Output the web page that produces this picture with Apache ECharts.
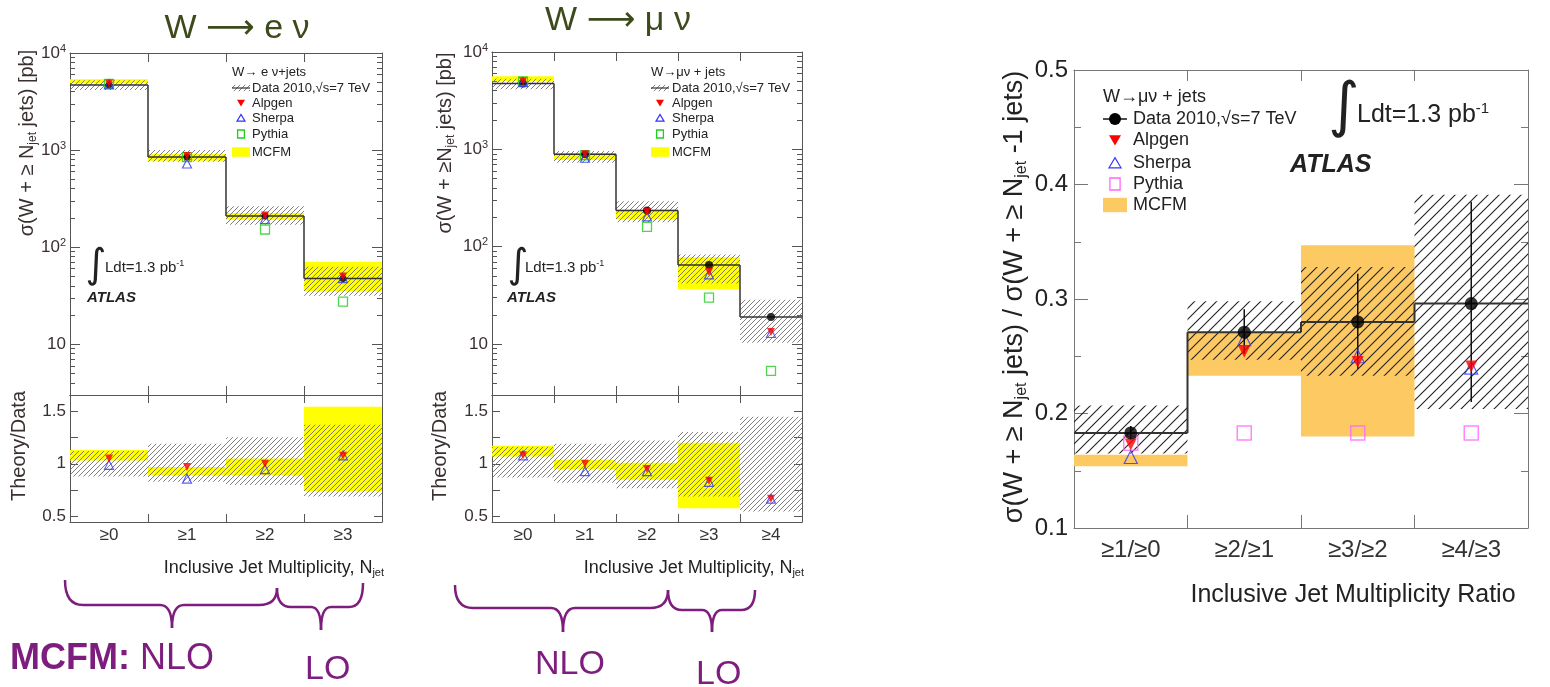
<!DOCTYPE html>
<html><head><meta charset="utf-8">
<script src="https://cdn.jsdelivr.net/npm/echarts@6/dist/echarts.min.js"></script>
<style>html,body{margin:0;padding:0;background:#fff}#c{width:1550px;height:687px}</style>
</head><body><div id="c"></div>
<script>
// ---------------- DATA ----------------
const eCats = ['≥0','≥1','≥2','≥3'];
const muCats = ['≥0','≥1','≥2','≥3','≥4'];
const ratioCats = ['≥1/≥0','≥2/≥1','≥3/≥2','≥4/≥3'];

// W -> e nu : sigma(W + >= N jets) [pb]
const eData    = [4690, 850, 210, 47.5];
const eDataLo  = [4160, 760, 170, 31.5];
const eDataHi  = [5250, 1000, 264, 63];
const eMcfmLo  = [4870, 775, 192, 35];
const eMcfmHi  = [5360, 910, 225, 70.7];
const eAlpgen  = [4850, 870, 212, 50];
const eSherpa  = [4750, 727, 195, 48];
const ePythia  = [4800, 845, 152, 27.5];
// W -> e nu : Theory/Data
const eRDataLo = [0.88, 0.83, 0.80, 0.69];
const eRDataHi = [1.12, 1.19, 1.25, 1.37];
const eRMcfmLo = [1.03, 0.89, 0.89, 0.74];
const eRMcfmHi = [1.13, 0.97, 1.05, 1.54];
const eRAlpgen = [1.05, 0.97, 1.00, 1.075];
const eRSherpa = [0.99, 0.86, 0.95, 1.08];

// W -> mu nu : sigma(W + >= N jets) [pb]
const muData   = [4760, 890, 235, 65, 19];
const muDataLo = [4150, 727, 178, 42, 10.3];
const muDataHi = [5300, 963, 294, 83, 28.6];
const muMcfmLo = [5020, 776, 190, 36.5, null];
const muMcfmHi = [5650, 910, 241, 78, null];
const muAlpgen = [5000, 890, 228, 55, 13.3];
const muSherpa = [4900, 820, 205, 52, 13];
const muPythia = [5000, 870, 160, 30, 5.3];
// W -> mu nu : Theory/Data
const muRDataLo = [0.87, 0.82, 0.77, 0.69, 0.55];
const muRDataHi = [1.16, 1.19, 1.22, 1.30, 1.445];
const muRMcfmLo = [1.07, 0.95, 0.85, 0.58, null];
const muRMcfmHi = [1.17, 1.035, 1.01, 1.20, null];
const muRAlpgen = [1.08, 1.00, 0.95, 0.84, 0.67];
const muRSherpa = [1.08, 0.93, 0.93, 0.83, 0.67];

// Ratio sigma(>=N)/sigma(>=N-1), W -> mu nu
const rData   = [0.183, 0.271, 0.280, 0.296];
const rErrLo  = [0.178, 0.252, 0.239, 0.210];
const rErrHi  = [0.189, 0.291, 0.322, 0.385];
const rSystLo = [0.165, 0.247, 0.233, 0.204];
const rSystHi = [0.207, 0.298, 0.328, 0.391];
const rMcfmLo = [0.154, 0.233, 0.180, null];
const rMcfmHi = [0.164, 0.271, 0.347, null];
const rAlpgen = [0.173, 0.254, 0.245, 0.241];
const rSherpa = [0.162, 0.265, 0.250, 0.240];
const rPythia = [0.174, 0.183, 0.183, 0.183];

// tick values
const logMinorTicks = [4,5,6,7,8,9,20,30,40,50,60,70,80,90,200,300,400,500,600,700,800,900,2000,3000,4000,5000,6000,7000,8000,9000];
const ratioTicks = [0.5, 0.75, 1, 1.25, 1.5];
const ratioLabels = [0.5, 1, 1.5];

// ---------------- STYLE HELPERS ----------------
const FONT = '"Liberation Sans", Arial, Helvetica, "DejaVu Sans", sans-serif';
const FR = '#555';
const YELLOW = '#ffff00';
const ORANGE = '#fdc962';
const PURPLE = '#7d1d7d';
const TITLEC = '#3c4a1c';

function hatchCanvas(size, color, lw) {
  const c = document.createElement('canvas');
  c.width = size; c.height = size;
  const g = c.getContext('2d');
  g.strokeStyle = color; g.lineWidth = lw;
  g.beginPath();
  g.moveTo(-2, size + 2); g.lineTo(size + 2, -2);
  g.moveTo(-2, 2); g.lineTo(2, -2);
  g.moveTo(size - 2, size + 2); g.lineTo(size + 2, size - 2);
  g.stroke();
  return c;
}
const greyHatch = {image: hatchCanvas(5, '#707070', 0.9), repeat: 'repeat'};
const blackHatch = {image: hatchCanvas(11, '#222', 1.1), repeat: 'repeat'};

function xCat(grid, cats, pos, showLabels, fs, tickLen, margin, color) {
  return {type: 'category', gridIndex: grid, data: cats, position: pos, boundaryGap: true,
    axisLine: {show: true, lineStyle: {color: color || FR, width: 1}},
    axisTick: {show: true, inside: true, length: tickLen, interval: 0, lineStyle: {color: color || FR}},
    axisLabel: {show: showLabels, interval: 0, fontSize: fs, fontFamily: FONT, color: '#333', margin: margin},
    splitLine: {show: false}};
}
function logFmt(v) {
  const k = Math.round(Math.log10(v));
  return k === 1 ? '{b|10}' : '{b|10}{s|' + k + '}';
}
function yLog(grid, pos, showLabels) {
  return {type: 'log', logBase: 10, gridIndex: grid, position: pos, min: 3, max: 10000, splitNumber: 4,
    axisLine: {show: true, lineStyle: {color: FR}},
    axisTick: {show: true, inside: true, length: 10, lineStyle: {color: FR}},
    axisLabel: {show: showLabels, showMinLabel: false, margin: 4, color: '#3a3030', formatter: logFmt,
      rich: {b: {fontSize: 17, fontFamily: FONT, color: '#3a3030', lineHeight: 20},
             s: {fontSize: 11, fontFamily: FONT, color: '#3a3030', lineHeight: 11, verticalAlign: 'top'}}},
    splitLine: {show: false}};
}
function yMinor(grid, pos, vals, min, max, len) {
  return {type: 'value', gridIndex: grid, position: pos, min: min, max: max,
    axisLine: {show: false}, axisLabel: {show: false}, splitLine: {show: false},
    axisTick: {show: true, inside: true, length: len, customValues: vals, lineStyle: {color: FR}}};
}
function yRatio(grid, pos, showLabels) {
  return {type: 'value', gridIndex: grid, position: pos, min: 0.45, max: 1.65,
    axisLine: {show: true, lineStyle: {color: FR}},
    axisTick: {show: true, inside: true, length: 8, customValues: ratioTicks, lineStyle: {color: FR}},
    axisLabel: {show: showLabels, customValues: ratioLabels, formatter: v => String(v),
      fontSize: 17, fontFamily: FONT, color: '#3a3030', margin: 4},
    splitLine: {show: false}};
}
function yRight(pos, showLabels) {
  return {type: 'value', gridIndex: 4, position: pos, min: 0.1, max: 0.5, interval: 0.1,
    axisLine: {show: true, lineStyle: {color: '#777'}},
    axisTick: {show: true, inside: true, length: 14, lineStyle: {color: '#777'}},
    minorTick: {show: true, splitNumber: 2, length: 7, lineStyle: {color: '#777'}},
    axisLabel: {show: showLabels, formatter: v => v.toFixed(1), fontSize: 24, fontFamily: FONT, color: '#222', margin: 6},
    splitLine: {show: false}};
}

function band(xi, yi, lo, hi, fill, z) {
  return {type: 'custom', xAxisIndex: xi, yAxisIndex: yi, z: z, silent: true, clip: true,
    data: lo.map((l, i) => [i, l, hi[i]]).filter(d => d[1] != null),
    encode: {x: 0, y: [1, 2]},
    renderItem: function (params, api) {
      const i = api.value(0);
      const p1 = api.coord([i, api.value(1)]);
      const p2 = api.coord([i, api.value(2)]);
      const w = api.size([1, 0])[0];
      return {type: 'rect', shape: {x: p1[0] - w / 2, y: p2[1], width: w, height: p1[1] - p2[1]},
        style: {fill: fill}};
    }};
}
function step(xi, yi, vals, color, lw, z) {
  return {type: 'custom', xAxisIndex: xi, yAxisIndex: yi, z: z, silent: true, clip: true,
    data: vals.map((v, i) => [i, v, i > 0 ? vals[i - 1] : v]),
    encode: {x: 0, y: 1},
    renderItem: function (params, api) {
      const i = api.value(0);
      const p = api.coord([i, api.value(1)]);
      const q = api.coord([i, api.value(2)]);
      const w = api.size([1, 0])[0];
      const ch = [{type: 'line', shape: {x1: p[0] - w / 2, y1: p[1], x2: p[0] + w / 2, y2: p[1]},
        style: {stroke: color, lineWidth: lw}}];
      if (i > 0) ch.push({type: 'line', shape: {x1: p[0] - w / 2, y1: q[1], x2: p[0] - w / 2, y2: p[1]},
        style: {stroke: color, lineWidth: lw}});
      return {type: 'group', children: ch};
    }};
}
function errBars(xi, yi, lo, hi, color, lw, z) {
  return {type: 'custom', xAxisIndex: xi, yAxisIndex: yi, z: z, silent: true, clip: true,
    data: lo.map((l, i) => [i, l, hi[i]]),
    encode: {x: 0, y: [1, 2]},
    renderItem: function (params, api) {
      const i = api.value(0);
      const a = api.coord([i, api.value(1)]);
      const b = api.coord([i, api.value(2)]);
      return {type: 'line', shape: {x1: a[0], y1: a[1], x2: b[0], y2: b[1]}, style: {stroke: color, lineWidth: lw}};
    }};
}
const markStyles = {
  data:   {symbol: 'circle', itemStyle: {color: '#000'}},
  alpgen: {symbol: 'triangle', symbolRotate: 180, itemStyle: {color: '#ff0000'}},
  sherpa: {symbol: 'triangle', itemStyle: {color: 'rgba(0,0,0,0)', borderColor: '#3333ff', borderWidth: 1.2}},
  pythiaG:{symbol: 'rect', itemStyle: {color: 'rgba(0,0,0,0)', borderColor: '#22cc22', borderWidth: 1.3}},
  pythiaM:{symbol: 'rect', itemStyle: {color: 'rgba(0,0,0,0)', borderColor: '#ff66ff', borderWidth: 1.5}}
};
function marks(xi, yi, vals, kind, size, z) {
  const s = markStyles[kind];
  return Object.assign({type: 'scatter', xAxisIndex: xi, yAxisIndex: yi, z: z, silent: true,
    symbolSize: size, data: vals.map((v, i) => [i, v]).filter(d => d[1] != null)}, s);
}

// ---------------- AXES ----------------
const logMinorLog = logMinorTicks.map(v => Math.log10(v));
const LMIN = Math.log10(3), LMAX = 4;

const xAxis = [
  xCat(0, eCats, 'bottom', false, 17, 9, 4),
  xCat(0, eCats, 'top', false, 17, 9, 4),
  xCat(1, eCats, 'bottom', true, 17, 8, 5),
  xCat(1, eCats, 'top', false, 17, 8, 4),
  xCat(2, muCats, 'bottom', false, 17, 9, 4),
  xCat(2, muCats, 'top', false, 17, 9, 4),
  xCat(3, muCats, 'bottom', true, 17, 8, 5),
  xCat(3, muCats, 'top', false, 17, 8, 4),
  xCat(4, ratioCats, 'bottom', true, 24, 13, 10, '#777'),
  xCat(4, ratioCats, 'top', false, 24, 11, 4, '#777')
];
const yAxis = [
  yLog(0, 'left', true),
  yMinor(0, 'left', logMinorLog, LMIN, LMAX, 5),
  yLog(0, 'right', false),
  yMinor(0, 'right', logMinorLog, LMIN, LMAX, 5),
  yRatio(1, 'left', true),
  yRatio(1, 'right', false),
  yLog(2, 'left', true),
  yMinor(2, 'left', logMinorLog, LMIN, LMAX, 5),
  yLog(2, 'right', false),
  yMinor(2, 'right', logMinorLog, LMIN, LMAX, 5),
  yRatio(3, 'left', true),
  yRatio(3, 'right', false),
  yRight('left', true),
  yRight('right', false)
];

// ---------------- SERIES ----------------
const series = [
  band(0, 0, eMcfmLo, eMcfmHi, YELLOW, 2),
  band(0, 0, eDataLo, eDataHi, greyHatch, 3),
  step(0, 0, eData, '#333', 1.5, 4),
  marks(0, 0, eData, 'data', 7, 6),
  marks(0, 0, ePythia, 'pythiaG', 9, 7),
  marks(0, 0, eSherpa, 'sherpa', 9, 8),
  marks(0, 0, eAlpgen, 'alpgen', 8, 9),
  band(2, 4, eRMcfmLo, eRMcfmHi, YELLOW, 2),
  band(2, 4, eRDataLo, eRDataHi, greyHatch, 3),
  marks(2, 4, eRSherpa, 'sherpa', 9, 8),
  marks(2, 4, eRAlpgen, 'alpgen', 8, 9),
  band(4, 6, muMcfmLo, muMcfmHi, YELLOW, 2),
  band(4, 6, muDataLo, muDataHi, greyHatch, 3),
  step(4, 6, muData, '#333', 1.5, 4),
  marks(4, 6, muData, 'data', 8, 6),
  marks(4, 6, muPythia, 'pythiaG', 9, 7),
  marks(4, 6, muSherpa, 'sherpa', 9, 8),
  marks(4, 6, muAlpgen, 'alpgen', 8, 9),
  band(6, 10, muRMcfmLo, muRMcfmHi, YELLOW, 2),
  band(6, 10, muRDataLo, muRDataHi, greyHatch, 3),
  marks(6, 10, muRSherpa, 'sherpa', 9, 8),
  marks(6, 10, muRAlpgen, 'alpgen', 8, 9),
  band(8, 12, rMcfmLo, rMcfmHi, ORANGE, 2),
  band(8, 12, rSystLo, rSystHi, blackHatch, 3),
  step(8, 12, rData, '#333', 2, 4),
  errBars(8, 12, rErrLo, rErrHi, '#111', 1.5, 5),
  marks(8, 12, rPythia, 'pythiaM', 14, 7),
  marks(8, 12, rSherpa, 'sherpa', 13, 8),
  marks(8, 12, rAlpgen, 'alpgen', 12, 9),
  marks(8, 12, rData, 'data', 13, 10)
];

// ---------------- GRAPHIC (titles, legends, annotations) ----------------
function txt(x, y, text, fs, opts) {
  return {type: 'text', x: x, y: y, z: 50, silent: true, rotation: (opts && opts.rotation) || 0,
    style: Object.assign({text: text, fontSize: fs, fontFamily: FONT, fill: '#222', align: 'left', verticalAlign: 'middle'}, opts && opts.style)};
}
function subRich(fs, color) {
  return {n: {fontSize: fs, fontFamily: FONT, fill: color, lineHeight: fs + 3},
    sub: {fontSize: Math.round(fs * 0.6), fontFamily: FONT, fill: color, lineHeight: Math.round(fs * 0.6), verticalAlign: 'bottom'}};
}
function legend(x0, iconX, textX, yHead, ys, fs, iconSize, hatch, bandColor, pythiaColor, headText, dataIcon) {
  const h = iconSize / 2;
  const els = [txt(x0, yHead, headText, fs)];
  const labels = ['Data 2010,√s=7 TeV', 'Alpgen', 'Sherpa', 'Pythia', 'MCFM'];
  labels.forEach((l, i) => els.push(txt(textX, ys[i], l, fs)));
  const w = (iconX - x0) * 2;
  if (dataIcon === 'hatch') {
    els.push({type: 'rect', z: 50, silent: true, shape: {x: x0, y: ys[0] - h * 0.8, width: w, height: h * 1.6}, style: {fill: hatch}});
    els.push({type: 'line', z: 51, silent: true, shape: {x1: x0, y1: ys[0], x2: x0 + w, y2: ys[0]}, style: {stroke: '#333', lineWidth: 1.2}});
  } else {
    els.push({type: 'line', z: 51, silent: true, shape: {x1: x0, y1: ys[0], x2: x0 + w, y2: ys[0]}, style: {stroke: '#111', lineWidth: 1.5}});
    els.push({type: 'circle', z: 52, silent: true, shape: {cx: iconX, cy: ys[0], r: h}, style: {fill: '#000'}});
  }
  els.push({type: 'polygon', z: 50, silent: true, shape: {points: [[iconX - h, ys[1] - h * 0.8], [iconX + h, ys[1] - h * 0.8], [iconX, ys[1] + h * 0.9]]}, style: {fill: '#ff0000'}});
  els.push({type: 'polygon', z: 50, silent: true, shape: {points: [[iconX - h, ys[2] + h * 0.8], [iconX + h, ys[2] + h * 0.8], [iconX, ys[2] - h * 0.9]]}, style: {fill: 'none', stroke: '#3333ff', lineWidth: 1.2}});
  els.push({type: 'rect', z: 50, silent: true, shape: {x: iconX - h * 0.85, y: ys[3] - h, width: h * 1.7, height: h * 2}, style: {fill: 'none', stroke: pythiaColor, lineWidth: 1.3}});
  els.push({type: 'rect', z: 50, silent: true, shape: {x: x0, y: ys[4] - h * 1.2, width: w, height: h * 2.4}, style: {fill: bandColor}});
  return els;
}
function brace(x1, y1, x2, y2, xm, yMid, yTip, r, rt) {
  const st = {fill: 'none', stroke: PURPLE, lineWidth: 2.5};
  const q = (ax, ay, cx, cy, bx, by) => ({type: 'bezierCurve', silent: true,
    shape: {x1: ax, y1: ay, cpx1: cx, cpy1: cy, x2: bx, y2: by}, style: st});
  const l = (ax, ay, bx, by) => ({type: 'line', silent: true, shape: {x1: ax, y1: ay, x2: bx, y2: by}, style: st});
  return {type: 'group', z: 50, silent: true, children: [
    q(x1, y1, x1, yMid, x1 + r, yMid),
    l(x1 + r, yMid, xm - rt, yMid),
    q(xm - rt, yMid, xm, yMid, xm, yTip),
    q(xm, yTip, xm, yMid, xm + rt, yMid),
    l(xm + rt, yMid, x2 - r, yMid),
    q(x2 - r, yMid, x2, yMid, x2, y2)
  ]};
}
const R20 = subRich(20, '#3a3030');
const R18 = subRich(18, '#222');
const R27 = subRich(27, '#222');
const ldtRich = (fs) => ({a: {fontSize: fs, fontFamily: FONT, fill: '#222', lineHeight: fs + 2},
  s: {fontSize: Math.round(fs * 0.6), fontFamily: FONT, fill: '#222', lineHeight: Math.round(fs * 0.6), verticalAlign: 'top'}});
const TITLEFONT = '"Liberation Sans", "DejaVu Sans", sans-serif';

const graphic = [
  txt(237, 29, 'W ⟶ e ν', 34, {style: {fill: TITLEC, align: 'center', fontFamily: TITLEFONT}}),
  txt(618, 21, 'W ⟶ μ ν', 34, {style: {fill: TITLEC, align: 'center', fontFamily: TITLEFONT}}),
  txt(27, 143, '{n|σ(W + ≥ N}{sub|jet}{n| jets) [pb]}', 20, {rotation: Math.PI / 2, style: {align: 'center', rich: R20}}),
  txt(19, 446, 'Theory/Data', 20, {rotation: Math.PI / 2, style: {align: 'center', fill: '#3a3030'}}),
  txt(445, 143, '{n|σ(W + ≥N}{sub|jet}{n| jets) [pb]}', 20, {rotation: Math.PI / 2, style: {align: 'center', rich: R20}}),
  txt(440, 446, 'Theory/Data', 20, {rotation: Math.PI / 2, style: {align: 'center', fill: '#3a3030'}}),
  txt(1015, 297, '{n|σ(W + ≥ N}{sub|jet}{n| jets) / σ(W + ≥ N}{sub|jet}{n| -1 jets)}', 27, {rotation: Math.PI / 2, style: {align: 'center', rich: R27}}),
  txt(384, 568, '{n|Inclusive Jet Multiplicity, N}{sub|jet}', 18, {style: {align: 'right', rich: R18}}),
  txt(804, 568, '{n|Inclusive Jet Multiplicity, N}{sub|jet}', 18, {style: {align: 'right', rich: R18}}),
  txt(1353, 595, 'Inclusive Jet Multiplicity Ratio', 25, {style: {align: 'center'}}),
  txt(96, 267, '∫', 40, {style: {align: 'center', fontFamily: '"DejaVu Sans", sans-serif'}}),
  txt(105, 268, '{a|Ldt=1.3 pb}{s|-1}', 15, {style: {rich: ldtRich(15)}}),
  txt(87, 298, 'ATLAS', 15, {style: {fontWeight: 'bold', fontStyle: 'italic'}}),
  txt(518, 267, '∫', 40, {style: {align: 'center', fontFamily: '"DejaVu Sans", sans-serif'}}),
  txt(525, 268, '{a|Ldt=1.3 pb}{s|-1}', 15, {style: {rich: ldtRich(15)}}),
  txt(507, 298, 'ATLAS', 15, {style: {fontWeight: 'bold', fontStyle: 'italic'}}),
  txt(1344, 109, '∫', 60, {style: {align: 'center', fontFamily: '"DejaVu Sans", sans-serif'}}),
  txt(1357, 115, '{a|Ldt=1.3 pb}{s|-1}', 25, {style: {rich: ldtRich(25)}}),
  txt(1290, 165, 'ATLAS', 25, {style: {fontWeight: 'bold', fontStyle: 'italic'}}),
  brace(65, 580, 277, 588, 172, 605, 628, 18, 12),
  brace(277, 588, 363, 583, 321, 607, 630, 14, 10),
  brace(455, 585, 668, 590, 563, 608, 632, 18, 12),
  brace(668, 590, 755, 590, 712, 610, 632, 14, 10),
  txt(10, 659, '{b|MCFM:}{n| NLO}', 36, {style: {rich: {
    b: {fontSize: 36, fontFamily: FONT, fontWeight: 'bold', fill: PURPLE},
    n: {fontSize: 36, fontFamily: FONT, fill: PURPLE}}}}),
  txt(305, 670, 'LO', 34, {style: {fill: PURPLE}}),
  txt(535, 665, 'NLO', 34, {style: {fill: PURPLE}}),
  txt(696, 675, 'LO', 34, {style: {fill: PURPLE}})
].concat(
  legend(232, 241, 252, 72, [88, 103, 118, 134, 152], 13, 8, greyHatch, YELLOW, '#22cc22', 'W→ e ν+jets', 'hatch'),
  legend(651, 660, 672, 72, [88, 103, 118, 134, 152], 13, 8, greyHatch, YELLOW, '#22cc22', 'W→μν + jets', 'hatch'),
  legend(1103, 1115, 1133, 97, [119, 140, 163, 184, 205], 18, 12, blackHatch, ORANGE, '#ff66ff', 'W→μν + jets', 'dot')
);

const option = {
  animation: false,
  backgroundColor: '#fff',
  grid: [
    {left: 70, top: 53, width: 312, height: 342},
    {left: 70, top: 395, width: 312, height: 127},
    {left: 492, top: 52, width: 310, height: 343},
    {left: 492, top: 395, width: 310, height: 127},
    {left: 1074, top: 70, width: 454, height: 458}
  ],
  xAxis: xAxis,
  yAxis: yAxis,
  series: series,
  graphic: graphic
};
const chart = echarts.init(document.getElementById('c'), null, {renderer: 'canvas'});
chart.setOption(option);
</script></body></html>
